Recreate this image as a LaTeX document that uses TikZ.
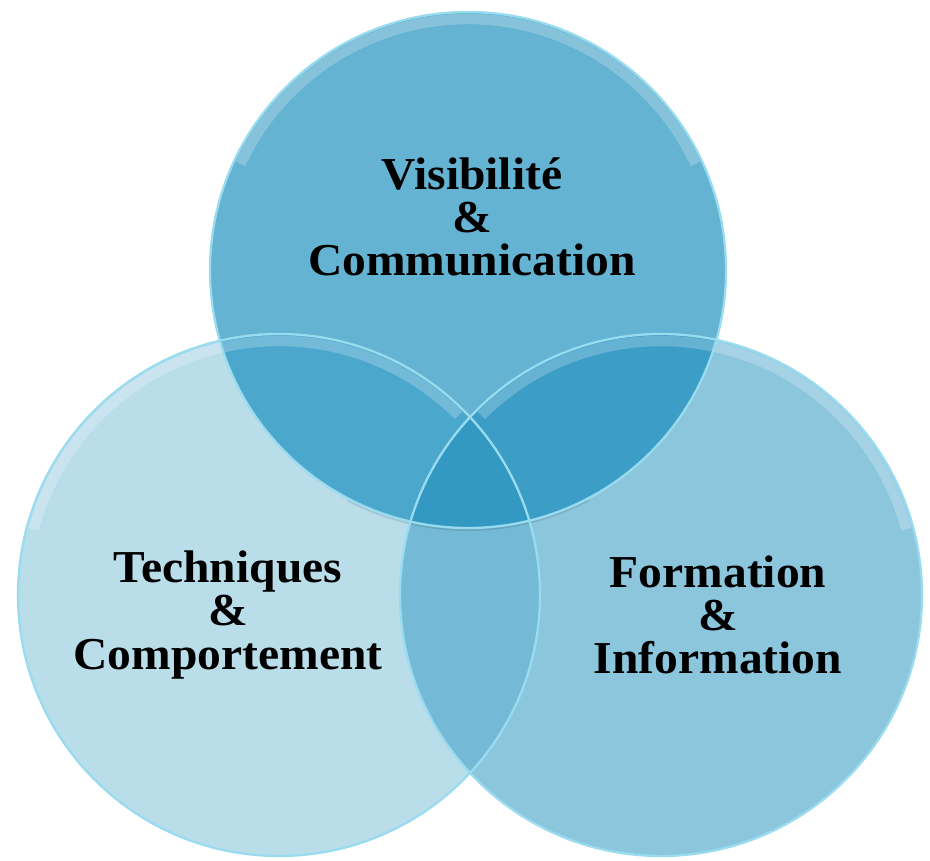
\documentclass[tikz,border=0pt]{standalone}
\usepackage{fontspec}
\setmainfont{Liberation Serif}[FakeStretch=1.04]
\usepackage{tikz}

\definecolor{leftfill}{HTML}{BADDEA}
\definecolor{rightfill}{HTML}{8CC6DD}
\definecolor{topfill}{HTML}{64B3D2}
\definecolor{lrfill}{HTML}{74BAD7}
\definecolor{tlfill}{HTML}{4BA7CC}
\definecolor{trfill}{HTML}{3C9DC6}
\definecolor{midfill}{HTML}{3399C3}
\definecolor{rimblue}{HTML}{9ADCEF}

\tikzset{
  lbl/.style={align=center, font=\fontsize{26}{24.6}\selectfont\bfseries},
  rim/.style={draw=rimblue, line width=1.3pt},
  glow/.style={draw=white, opacity=0.22, line width=6pt},
}

\begin{document}
\begin{tikzpicture}
      \useasboundingbox (0,0) rectangle (18.6,17.2);
      \coordinate (t) at (9.36,11.80);
      \coordinate (l) at (5.58,5.30);
      \coordinate (r) at (13.22,5.30);
      % discs
      \fill[leftfill] (l) circle (5.22);
      \fill[rightfill] (r) circle (5.22);
      \begin{scope}
        \clip (l) circle (5.22);
        \fill[lrfill] (r) circle (5.22);
      \end{scope}
      \fill[black, opacity=0.10] (t) ++(-62:5.22) arc[start angle=-62, end angle=-118, radius=5.22] -- cycle;
      \fill[topfill] (t) circle (5.16);
      \begin{scope}
        \clip (t) circle (5.16);
        \fill[tlfill] (l) circle (5.22);
        \fill[trfill] (r) circle (5.22);
        \clip (l) circle (5.22);
        \fill[midfill] (r) circle (5.22);
      \end{scope}
      % rims
      \draw[glow] (l) ++(165:5.08) arc[start angle=165, end angle=45, radius=5.08];
      \draw[glow] (r) ++(135:5.08) arc[start angle=135, end angle=15, radius=5.08];
      \draw[glow] (t) ++(155:5.02) arc[start angle=155, end angle=25, radius=5.02];
      \draw[rim] (l) circle (5.22);
      \draw[rim] (r) circle (5.22);
      \draw[rim] (t) circle (5.16);
      % labels
      \node[lbl] (vis) at (9.44,12.86) {Visibilité\\\&\\Communication};
      \node[lbl] (tech) at (4.56,4.90) {Techniques\\\&\\Comportement};
      \node[lbl] (form) at (14.36,4.90) {Formation\\\&\\Information};
\end{tikzpicture}
\end{document}
